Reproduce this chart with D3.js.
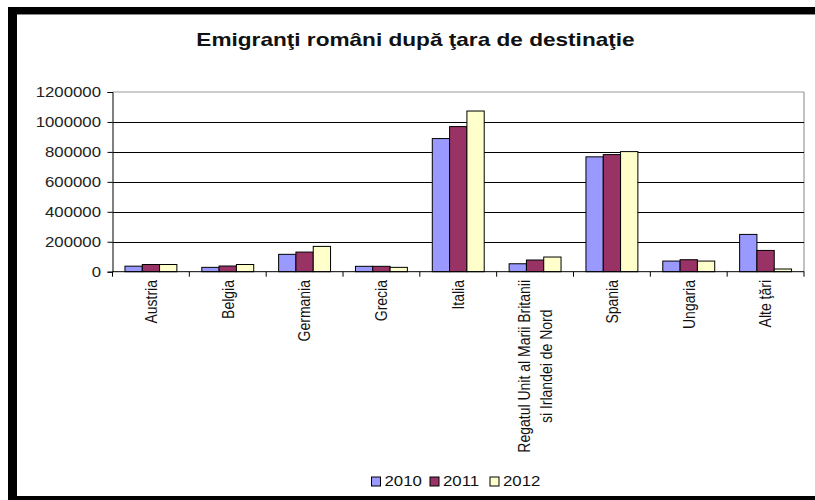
<!DOCTYPE html>
<html>
<head>
<meta charset="utf-8">
<script src="https://cdn.jsdelivr.net/npm/d3@7"></script>
<style>
  html, body { margin: 0; padding: 0; background: #fff; }
  svg { display: block; }
  text { font-family: "Liberation Sans", Arial, sans-serif; }
</style>
</head>
<body>
<svg id="chart" width="815" height="500"></svg>
<script>
const title = "Emigranţi români după ţara de destinaţie";
const categories = ["Austria", "Belgia", "Germania", "Grecia", "Italia",
  "Regatul Unit al Marii Britanii\nsi Irlandei de Nord", "Spania", "Ungaria", "Alte ţări"];
const seriesNames = ["2010", "2011", "2012"];
const values2010 = [37000, 29000, 116000, 36000, 889000, 53000, 767000, 71000, 249000];
const values2011 = [48000, 38000, 131000, 36000, 969000, 78000, 782000, 80000, 142000];
const values2012 = [48000, 48000, 169000, 29000, 1073000, 98000, 802000, 71000, 18000];
const yTicks = [0, 200000, 400000, 600000, 800000, 1000000, 1200000];
const colors = ["#9999FF", "#993366", "#FFFFCC"];

const seriesValues = [values2010, values2011, values2012];
const data = categories.map((c, i) => ({
  cat: c,
  vals: seriesNames.map((s, j) => ({ s, v: seriesValues[j][i] }))
}));

const svg = d3.select("#chart");
const SX = 1.2;

// frame
svg.append("rect").attr("x", 8).attr("y", 7).attr("width", 807).attr("height", 493).attr("fill", "#000");
svg.append("rect").attr("x", 17).attr("y", 14).attr("width", 798).attr("height", 482).attr("fill", "#fff");
svg.append("line").attr("x1", 17).attr("x2", 815).attr("y1", 14.5).attr("y2", 14.5).attr("stroke", "#888");

const pLeft = 112.5, pRight = 804, pTop = 92, pBottom = 271.7;

const x = d3.scaleBand().domain(categories).range([pLeft, pRight]).paddingInner(0).paddingOuter(0);
const x1 = d3.scaleBand().domain(seriesNames).range([0, x.bandwidth()]).paddingInner(0).paddingOuter(0.72);
const y = d3.scaleLinear().domain([0, 1200000]).range([pBottom, pTop]);
const color = d3.scaleOrdinal().domain(seriesNames).range(colors);

// title
svg.append("text")
  .attr("transform", `translate(415.5,46) scale(1.19,1)`)
  .attr("text-anchor", "middle")
  .attr("font-size", 19).attr("font-weight", "bold").attr("fill", "#111")
  .text(title);

// plot area border (gray) top & right
svg.append("line").attr("x1", pLeft).attr("x2", pRight).attr("y1", y(1200000)).attr("y2", y(1200000))
  .attr("stroke", "#999").attr("stroke-width", 1.2);
svg.append("line").attr("x1", pRight).attr("x2", pRight).attr("y1", y(1200000)).attr("y2", pBottom)
  .attr("stroke", "#999").attr("stroke-width", 1.2);

// gridlines
svg.append("g").selectAll("line")
  .data(yTicks.filter(t => t > 0 && t < 1200000))
  .join("line")
  .attr("x1", pLeft).attr("x2", pRight)
  .attr("y1", d => Math.round(y(d)) + 0.5).attr("y2", d => Math.round(y(d)) + 0.5)
  .attr("stroke", "#000").attr("stroke-width", 1);

// bars
const groups = svg.append("g").selectAll("g")
  .data(data).join("g")
  .attr("transform", d => `translate(${x(d.cat)},0)`);
groups.selectAll("rect")
  .data(d => d.vals).join("rect")
  .attr("x", d => x1(d.s))
  .attr("y", d => y(d.v))
  .attr("width", x1.bandwidth())
  .attr("height", d => y(0) - y(d.v))
  .attr("fill", d => color(d.s))
  .attr("stroke", "#000").attr("stroke-width", 1);

// y axis
const yAxis = svg.append("g")
  .attr("transform", `translate(${pLeft},0)`)
  .call(d3.axisLeft(y).tickValues(yTicks).tickFormat(d3.format("d")).tickSize(5).tickPadding(6));
yAxis.select(".domain").attr("stroke", "#000");
yAxis.selectAll(".tick line").attr("stroke", "#000");
yAxis.selectAll(".tick text")
  .attr("font-size", 14).attr("fill", "#222")
  .attr("font-family", "Liberation Sans, Arial, sans-serif")
  .attr("x", -11.5 / SX)
  .attr("transform", `scale(${SX},1)`);

// x axis line and ticks
const xAxis = svg.append("g").attr("transform", `translate(0,${pBottom})`);
xAxis.append("line").attr("x1", pLeft).attr("x2", pRight).attr("y1", 0).attr("y2", 0).attr("stroke", "#000");
xAxis.selectAll(".xt").data(categories.concat(["__end"])).join("line")
  .attr("class", "xt")
  .attr("x1", (d, i) => i < categories.length ? x(d) : pRight)
  .attr("x2", (d, i) => i < categories.length ? x(d) : pRight)
  .attr("y1", 0).attr("y2", 5).attr("stroke", "#000");

// x labels (rotated)
const labY = 280;
categories.forEach(c => {
  const lines = c.split("\n");
  const g = svg.append("g").attr("transform", `translate(${x(c) + x.bandwidth() / 2},${labY}) scale(${SX},1) rotate(-90)`);
  const t = g.append("text").attr("font-size", 14).attr("fill", "#111");
  const n = lines.length;
  lines.forEach((ln, i) => {
    t.append("tspan").attr("x", 0).attr("y", (i - (n - 1) / 2) * 19).attr("dy", "0.35em").text(ln);
  });
  if (n === 1) {
    t.attr("text-anchor", "end");
  } else {
    let maxLen = 0;
    t.selectAll("tspan").each(function() { maxLen = Math.max(maxLen, this.getComputedTextLength()); });
    t.attr("text-anchor", "middle");
    t.selectAll("tspan").attr("x", -maxLen / 2);
  }
});

// legend
const legendX = [371.5, 430, 490];
const legend = svg.append("g");
seriesNames.forEach((s, i) => {
  legend.append("rect").attr("x", legendX[i]).attr("y", 477).attr("width", 9).attr("height", 9)
    .attr("fill", colors[i]).attr("stroke", "#000").attr("stroke-width", 1);
  legend.append("text")
    .attr("transform", `translate(${legendX[i] + 13},486) scale(${SX},1)`)
    .attr("font-size", 14).attr("fill", "#111")
    .text(s);
});
</script>
</body>
</html>
